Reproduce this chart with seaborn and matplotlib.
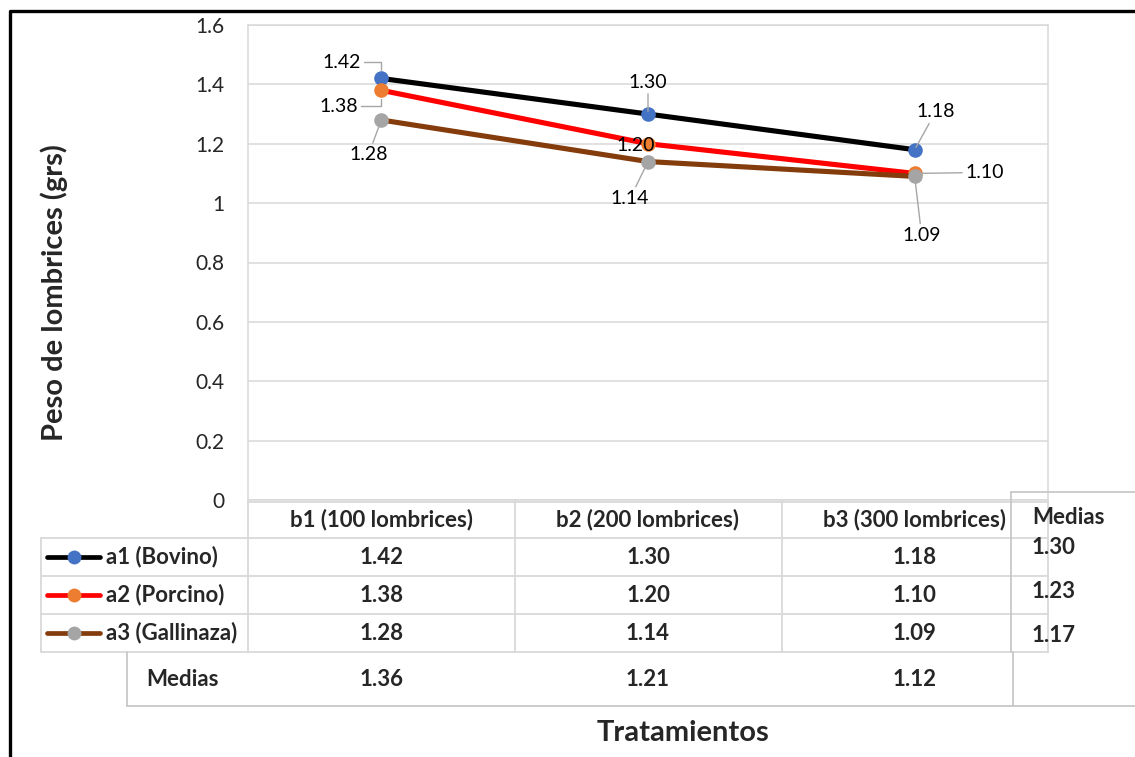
import pandas as pd
import seaborn as sns
import matplotlib.pyplot as plt
from matplotlib.lines import Line2D
from matplotlib.transforms import blended_transform_factory

# Data
tratamientos = ["b1 (100 lombrices)", "b2 (200 lombrices)", "b3 (300 lombrices)"]
abonos = ["a1 (Bovino)", "a2 (Porcino)", "a3 (Gallinaza)"]
bovino = [1.42, 1.30, 1.18]
porcino = [1.38, 1.20, 1.10]
gallinaza = [1.28, 1.14, 1.09]
medias_trat = [1.36, 1.21, 1.12]
medias_abono = [1.30, 1.23, 1.17]
y_ticks = [0, 0.2, 0.4, 0.6, 0.8, 1, 1.2, 1.4, 1.6]

line_colors = ["#000000", "#FF0000", "#843C0C"]
marker_colors = ["#4472C4", "#ED7D31", "#A5A5A5"]

df = pd.DataFrame({
    "Tratamiento": tratamientos * 3,
    "Abono": [a for a in abonos for _ in tratamientos],
    "Peso": bovino + porcino + gallinaza,
})

sns.set_style("white")
plt.rcParams["font.family"] = ["Lato", "DejaVu Sans"]

W, H = 1135, 757
fig = plt.figure(figsize=(W / 100, H / 100), dpi=100)

def fx(px):
    return px / W

def fy(py):
    return 1 - py / H

# plot area
ax = fig.add_axes([fx(248), fy(500), fx(1048) - fx(248), fy(25) - fy(500)])
for i, abono in enumerate(abonos):
    sub = df[df["Abono"] == abono]
    sns.lineplot(data=sub, x="Tratamiento", y="Peso", ax=ax, sort=False,
                 color=line_colors[i], linewidth=3.7, marker="o", markersize=10.5,
                 markerfacecolor=marker_colors[i], markeredgecolor=marker_colors[i],
                 markeredgewidth=0, zorder=3 + i)

ax.set_xlim(-0.5, len(tratamientos) - 0.5)
ax.set_ylim(0, 1.6)
ax.set_yticks(y_ticks)
ax.set_yticklabels([f"{t:g}" for t in y_ticks], fontsize=15)
ax.tick_params(axis="y", length=0, pad=17)
ax.set_xticks([])
ax.set_xlabel("")
ax.grid(axis="y", color="#d9d9d9", linewidth=1.1)
for side in ["left", "right", "top", "bottom"]:
    ax.spines[side].set_color("#d9d9d9")
    ax.spines[side].set_linewidth(1.1)

ax.set_ylabel("Peso de lombrices (grs)", fontsize=21, fontweight="bold")
ax.yaxis.set_label_coords((68 - 248) / 800, (500 - 293) / 475)

# data labels with leader lines (offsets in pixels)
series = [bovino, porcino, gallinaza]
offsets = [
    [(-40, 16), (0, 32), (21, 38)],
    [(-43, -16), (-12, -2), (70, 1)],
    [(-13, -35), (-18, -37), (7, -59)],
]
angled = {(0, 0), (1, 0)}
for s, vals in enumerate(series):
    for j, v in enumerate(vals):
        if (s, j) in angled:
            arrow = dict(arrowstyle="-", color="#a6a6a6", lw=1.0, shrinkA=0, shrinkB=6,
                         connectionstyle="angle,angleA=0,angleB=90,rad=0")
        elif (s, j) == (1, 1):
            arrow = None
        else:
            arrow = dict(arrowstyle="-", color="#a6a6a6", lw=1.0, shrinkA=0, shrinkB=2)
        ax.annotate(f"{v:.2f}", xy=(j, v), xytext=offsets[s][j], textcoords="offset pixels",
                    ha="center", va="center", fontsize=14, color="#000000",
                    arrowprops=arrow, zorder=10, annotation_clip=False)

# data table below the plot
tr = blended_transform_factory(ax.transData, fig.transFigure)
grid_c = "#d9d9d9"
lw_t = 1.3
fs_t = 16

def hline(x0, x1, y, c=grid_c):
    fig.add_artist(Line2D([fx(x0), fx(x1)], [fy(y), fy(y)], color=c, lw=lw_t))

def vline(x, y0, y1, c=grid_c):
    fig.add_artist(Line2D([fx(x), fx(x)], [fy(y0), fy(y1)], color=c, lw=lw_t))

hline(248, 1048, 502)
for y in [538, 576, 614, 652]:
    hline(41, 1048, y)
vline(41, 538, 652)
for x in [248, 515, 782, 1048]:
    vline(x, 500, 652)
# medias row
hline(127, 1135, 706, "#c8c8c8")
vline(127, 652, 706, "#c8c8c8")
vline(1013, 652, 706, "#c8c8c8")
# medias column
hline(1011, 1135, 492, "#c8c8c8")
vline(1011, 492, 652, "#c8c8c8")

row_y = [557, 595, 633]
for j, t in enumerate(tratamientos):
    fig.text(j, fy(520), t, transform=tr, ha="center", va="center",
             fontsize=fs_t, fontweight="bold")
    for s, vals in enumerate(series):
        fig.text(j, fy(row_y[s]), f"{vals[j]:.2f}", transform=tr, ha="center",
                 va="center", fontsize=fs_t, fontweight="bold")
    fig.text(j, fy(679), f"{medias_trat[j]:.2f}", transform=tr, ha="center",
             va="center", fontsize=fs_t, fontweight="bold")

for s, abono in enumerate(abonos):
    fig.add_artist(Line2D([fx(47), fx(100)], [fy(row_y[s]), fy(row_y[s])],
                          color=line_colors[s], lw=3.4, solid_capstyle="round"))
    fig.add_artist(Line2D([fx(74)], [fy(row_y[s])], marker="o", markersize=10,
                          markerfacecolor=marker_colors[s], markeredgewidth=0))
    fig.text(fx(106), fy(row_y[s]), abono, ha="left", va="center",
             fontsize=fs_t, fontweight="bold")

fig.text(fx(183), fy(679), "Medias", ha="center", va="center", fontsize=fs_t, fontweight="bold")
fig.text(fx(1032), fy(518), "Medias", ha="left", va="center", fontsize=fs_t, fontweight="bold")
for s, m in enumerate(medias_abono):
    fig.text(fx(1032), fy([547, 591, 635][s]), f"{m:.2f}", ha="left", va="center",
             fontsize=fs_t, fontweight="bold")

fig.text(fx(683), fy(733), "Tratamientos", ha="center", va="center",
         fontsize=21, fontweight="bold")

# outer black frame (left and top edges)
fig.add_artist(Line2D([fx(9.5), fx(9.5), fx(1135)], [fy(757), fy(10.5), fy(10.5)],
                      color="black", lw=2.4))

fig.savefig("out.png", dpi=100)
